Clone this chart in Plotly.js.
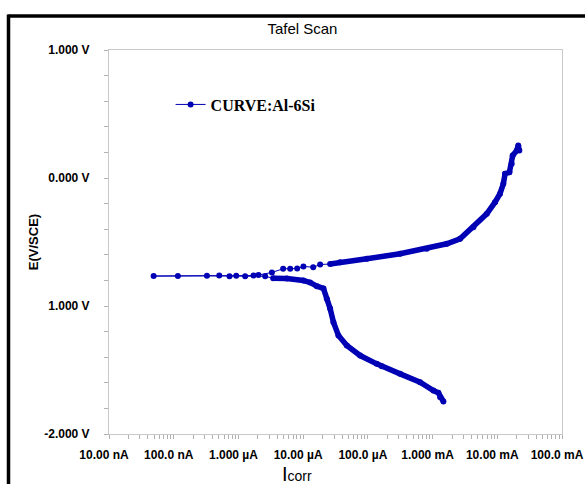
<!DOCTYPE html>
<html>
<head>
<meta charset="utf-8">
<script src="https://cdn.plot.ly/plotly-3.0.1.min.js"></script>
<style>html,body{margin:0;padding:0;background:#fff;}#chart{width:585px;height:484px;}</style>
</head>
<body>
<div id="chart"></div>
<script>
// Cathodic branch (scan order: most negative potential first, towards Ecorr)
var cathodicI = [1.47e-3, 1.31e-3, 1.23e-3, 1.03e-3, 6.41e-4, 3.15e-4, 1.64e-4, 1.37e-4, 7.59e-5, 4.73e-5, 3.51e-5, 2.94e-5, 2.61e-5, 2.32e-5, 2.06e-5, 1.63e-5, 1.28e-5, 1.01e-5, 5.61e-6, 3.44e-6, 2.59e-6, 1.27e-6, 7.28e-7, 3.26e-7, 4.89e-8];
var cathodicE = [-1.746, -1.713, -1.678, -1.660, -1.595, -1.530, -1.470, -1.452, -1.387, -1.309, -1.230, -1.127, -1.020, -0.944, -0.863, -0.845, -0.816, -0.801, -0.785, -0.783, -0.768, -0.767, -0.768, -0.764, -0.766];
// Anodic branch (from Ecorr upward)
var anodicI = [1.16e-7, 5.05e-7, 9.25e-7, 1.71e-6, 2.04e-6, 3.29e-6, 4.91e-6, 6.31e-6, 8.09e-6, 1.01e-5, 1.43e-5, 1.83e-5, 2.61e-5, 3.73e-5, 9.64e-5, 3.15e-4, 8.12e-4, 1.66e-3, 2.66e-3, 4.27e-3, 6.87e-3, 9.23e-3, 1.10e-2, 1.24e-2, 1.32e-2, 1.54e-2, 1.67e-2, 1.73e-2, 2.00e-2, 2.11e-2, 2.19e-2];
var anodicE = [-0.766, -0.762, -0.764, -0.762, -0.758, -0.738, -0.709, -0.709, -0.707, -0.691, -0.697, -0.676, -0.672, -0.658, -0.631, -0.592, -0.553, -0.514, -0.475, -0.384, -0.280, -0.189, -0.123, -0.045, 0.033, 0.045, 0.111, 0.176, 0.215, 0.254, 0.215];

var seriesName = 'CURVE:Al-6Si';
var xTickVals = [1e-8, 1e-7, 1e-6, 1e-5, 1e-4, 1e-3, 1e-2, 1e-1];
var xTickText = ['10.00 nA', '100.0 nA', '1.000 µA', '10.00 µA', '100.0 µA', '1.000 mA', '10.00 mA', '100.0 mA'];
var yTickVals = [-2, -1, 0, 1];
var yTickText = ['-2.000 V', '1.000 V', '0.000 V', '1.000 V'];

var blue = '#0000b4';
var cathThickEnd = 20;   // index where the dense cathodic line ends
var anodThickStart = 12; // index where the dense anodic line begins

var allI = cathodicI.concat(anodicI);
var allE = cathodicE.concat(anodicE);

// minor log ticks 2..9 per decade
var minorVals = [];
for (var d = -8; d < -1; d++) {
  for (var m = 2; m <= 9; m++) minorVals.push(m * Math.pow(10, d));
}

var traces = [
  {
    x: cathodicI.slice(0, cathThickEnd), y: cathodicE.slice(0, cathThickEnd),
    mode: 'lines', line: {color: blue, width: 5.5}, showlegend: false, hoverinfo: 'skip'
  },
  {
    x: anodicI.slice(anodThickStart), y: anodicE.slice(anodThickStart),
    mode: 'lines', line: {color: blue, width: 5.5}, showlegend: false, hoverinfo: 'skip'
  },
  {
    x: allI, y: allE, name: seriesName,
    mode: 'lines+markers',
    line: {color: blue, width: 1},
    marker: {color: blue, size: 6}
  }
];

var axisFont = {family: 'Liberation Sans, Arial, sans-serif', size: 12, color: '#000', weight: 700};

var layout = {
  width: 585, height: 484,
  margin: {l: 109, r: 23, t: 50, b: 50},
  paper_bgcolor: '#ffffff', plot_bgcolor: '#ffffff',
  title: {
    text: 'Tafel Scan', x: 0.517, xref: 'container', xanchor: 'center',
    y: 0.94, yref: 'container', yanchor: 'middle',
    font: {family: 'Liberation Sans, Arial, sans-serif', size: 15, color: '#000'}
  },
  xaxis: {
    type: 'log', range: [-8, -1],
    tickmode: 'array', tickvals: xTickVals, ticktext: xTickText,
    ticks: 'outside', ticklen: 4, tickcolor: '#b0b0b0',
    minor: {tickmode: 'array', tickvals: minorVals, ticks: 'outside', ticklen: 4, tickcolor: '#b0b0b0', showgrid: false},
    showgrid: false, zeroline: false,
    showline: true, linecolor: '#c8c8c8', linewidth: 1, mirror: true,
    tickfont: axisFont, ticklabelstandoff: 6, ticklabelshift: -5, ticklabeloverflow: 'allow'
  },
  yaxis: {
    range: [-2, 1],
    tickmode: 'array', tickvals: yTickVals, ticktext: yTickText,
    ticks: 'outside', ticklen: 4, tickcolor: '#b0b0b0',
    minor: {dtick: 0.2, ticks: 'outside', ticklen: 4, tickcolor: '#b0b0b0', showgrid: false},
    showgrid: false, zeroline: false,
    showline: true, linecolor: '#c8c8c8', linewidth: 1, mirror: true,
    tickfont: axisFont, ticklabelstandoff: 12,
    title: {text: 'E(V/SCE)', standoff: 2, font: {family: 'Liberation Sans, Arial, sans-serif', size: 13, color: '#000', weight: 700}}
  },
  legend: {
    x: 0.136, y: 0.858, xanchor: 'left', yanchor: 'middle',
    bgcolor: 'rgba(0,0,0,0)', borderwidth: 0,
    font: {family: 'Liberation Serif, Times New Roman, serif', size: 16, color: '#000', weight: 700}
  },
  annotations: [
    {
      text: "<span style='font-size:20px'>I</span>corr",
      xref: 'paper', yref: 'paper', x: (297 - 109) / 453, y: (434 - 474) / 384,
      xanchor: 'center', yanchor: 'middle', showarrow: false,
      font: {family: 'Liberation Sans, Arial, sans-serif', size: 14, color: '#000'}
    }
  ],
  shapes: [
    {type: 'line', xref: 'paper', yref: 'paper', x0: (8.5 - 109) / 453, x1: 1.2, y0: (434 - 16) / 384, y1: (434 - 16) / 384, line: {color: '#000', width: 3.5}},
    {type: 'line', xref: 'paper', yref: 'paper', x0: (8.5 - 109) / 453, x1: (8.5 - 109) / 453, y0: (434 - 14.5) / 384, y1: -0.2, line: {color: '#000', width: 3.5}}
  ],
  showlegend: true
};

Plotly.newPlot('chart', traces, layout, {staticPlot: true, displayModeBar: false});
</script>
</body>
</html>
